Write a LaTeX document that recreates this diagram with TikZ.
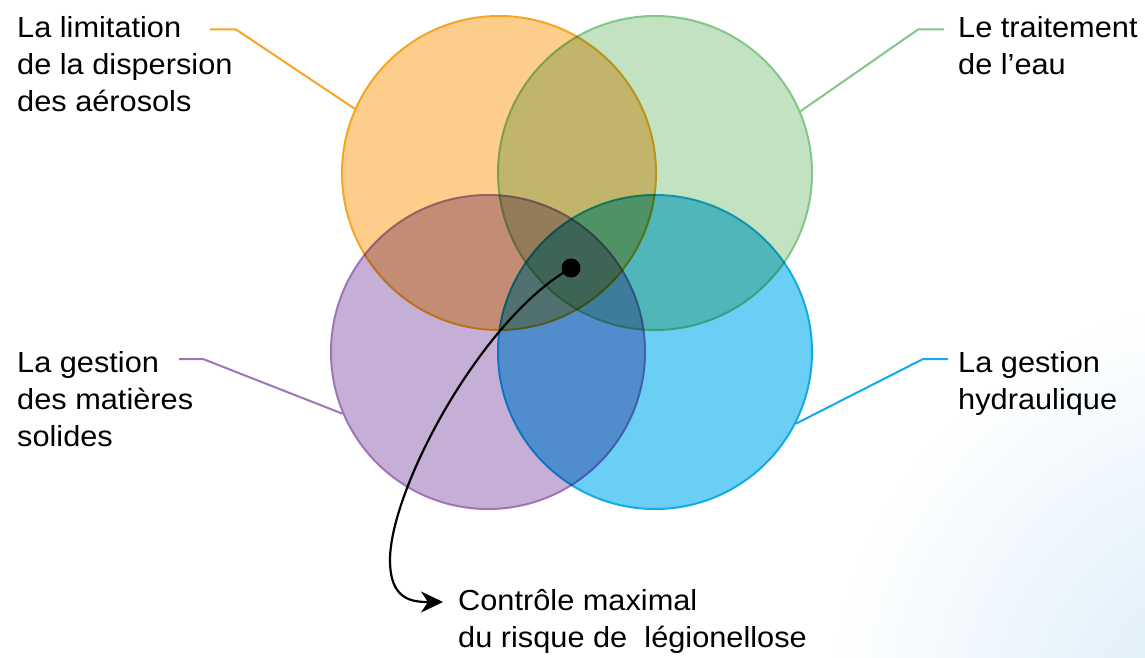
\documentclass[tikz,border=0pt]{standalone}
\usepackage{fontspec}
\setmainfont{Liberation Sans}[FakeStretch=1.06]
\usetikzlibrary{arrows.meta}
\definecolor{orfill}{RGB}{253,205,140}
\definecolor{orline}{RGB}{245,166,35}
\definecolor{grfill}{RGB}{194,226,194}
\definecolor{grline}{RGB}{130,199,137}
\definecolor{pufill}{RGB}{197,175,214}
\definecolor{puline}{RGB}{158,118,184}
\definecolor{blfill}{RGB}{106,206,245}
\definecolor{blline}{RGB}{20,170,230}
\definecolor{bgblue}{RGB}{214,234,248}
\begin{document}
\begin{tikzpicture}[x=1pt,y=-1pt,
  venn/.style={circle,minimum size=314pt,inner sep=0pt,line width=2pt},
  lbl/.style={align=left,anchor=base west,inner sep=0pt,font=\fontsize{29}{37}\selectfont},
  lead/.style={line width=2pt}]
\path[use as bounding box] (0,0) rectangle (1145,658);
\fill[white] (0,0) rectangle (1145,658);
\begin{scope}
  \clip (0,0) rectangle (1145,658);
  \shade[inner color=bgblue, outer color=white] (1250,720) circle (430);
\end{scope}
\begin{scope}[blend group=multiply]
  \begin{scope}[transparency group]
    \node[venn,draw=orline,fill=orfill] (aer) at (499,173) {};
  \end{scope}
  \begin{scope}[transparency group]
    \node[venn,draw=grline,fill=grfill] (eau) at (655,173) {};
  \end{scope}
  \begin{scope}[transparency group]
    \node[venn,draw=puline,fill=pufill] (sol) at (488,352) {};
  \end{scope}
  \begin{scope}[transparency group]
    \node[venn,draw=blline,fill=blfill] (hyd) at (655,352) {};
  \end{scope}
\end{scope}
% labels (anchored at the baseline of their last line)
\node[lbl] (t1) at (17,112) {La limitation\\de la dispersion\\des aérosols};
\node[lbl] (t2) at (958,75) {Le traitement\\de l’eau};
\node[lbl] (t3) at (17,446) {La gestion\\des matières\\solides};
\node[lbl] (t4) at (958,409) {La gestion\\hydraulique};
\node[lbl] (t5) at (458,647) {Contrôle maximal\\du risque de\ \ légionellose};
% leaders
\coordinate (a1) at (210,29.5);
\draw[lead,orline] (a1) -- ++(26,0) -- (aer.156.5);
\coordinate (a2) at (944,29.5);
\draw[lead,grline] (a2) -- ++(-26,0) -- (eau.23.5);
\coordinate (a3) at (179,359);
\draw[lead,puline] (a3) -- ++(24,0) -- (sol.203.8);
\coordinate (a4) at (948,359);
\draw[lead,blline] (a4) -- ++(-25,0) -- (hyd.333.4);
% centre dot and arrow
\node[circle,fill=black,minimum size=19pt,inner sep=0pt] (dot) at (571,268) {};
\coordinate (tip) at (443,602);
\draw[line width=2.2pt,-{Stealth[length=22pt,width=21pt,inset=7pt]}] (dot.center)
  .. controls (480,320) and (390,490) .. (390,560)
  .. controls (390,600) and (412,602) .. (tip);
\end{tikzpicture}
\end{document}
